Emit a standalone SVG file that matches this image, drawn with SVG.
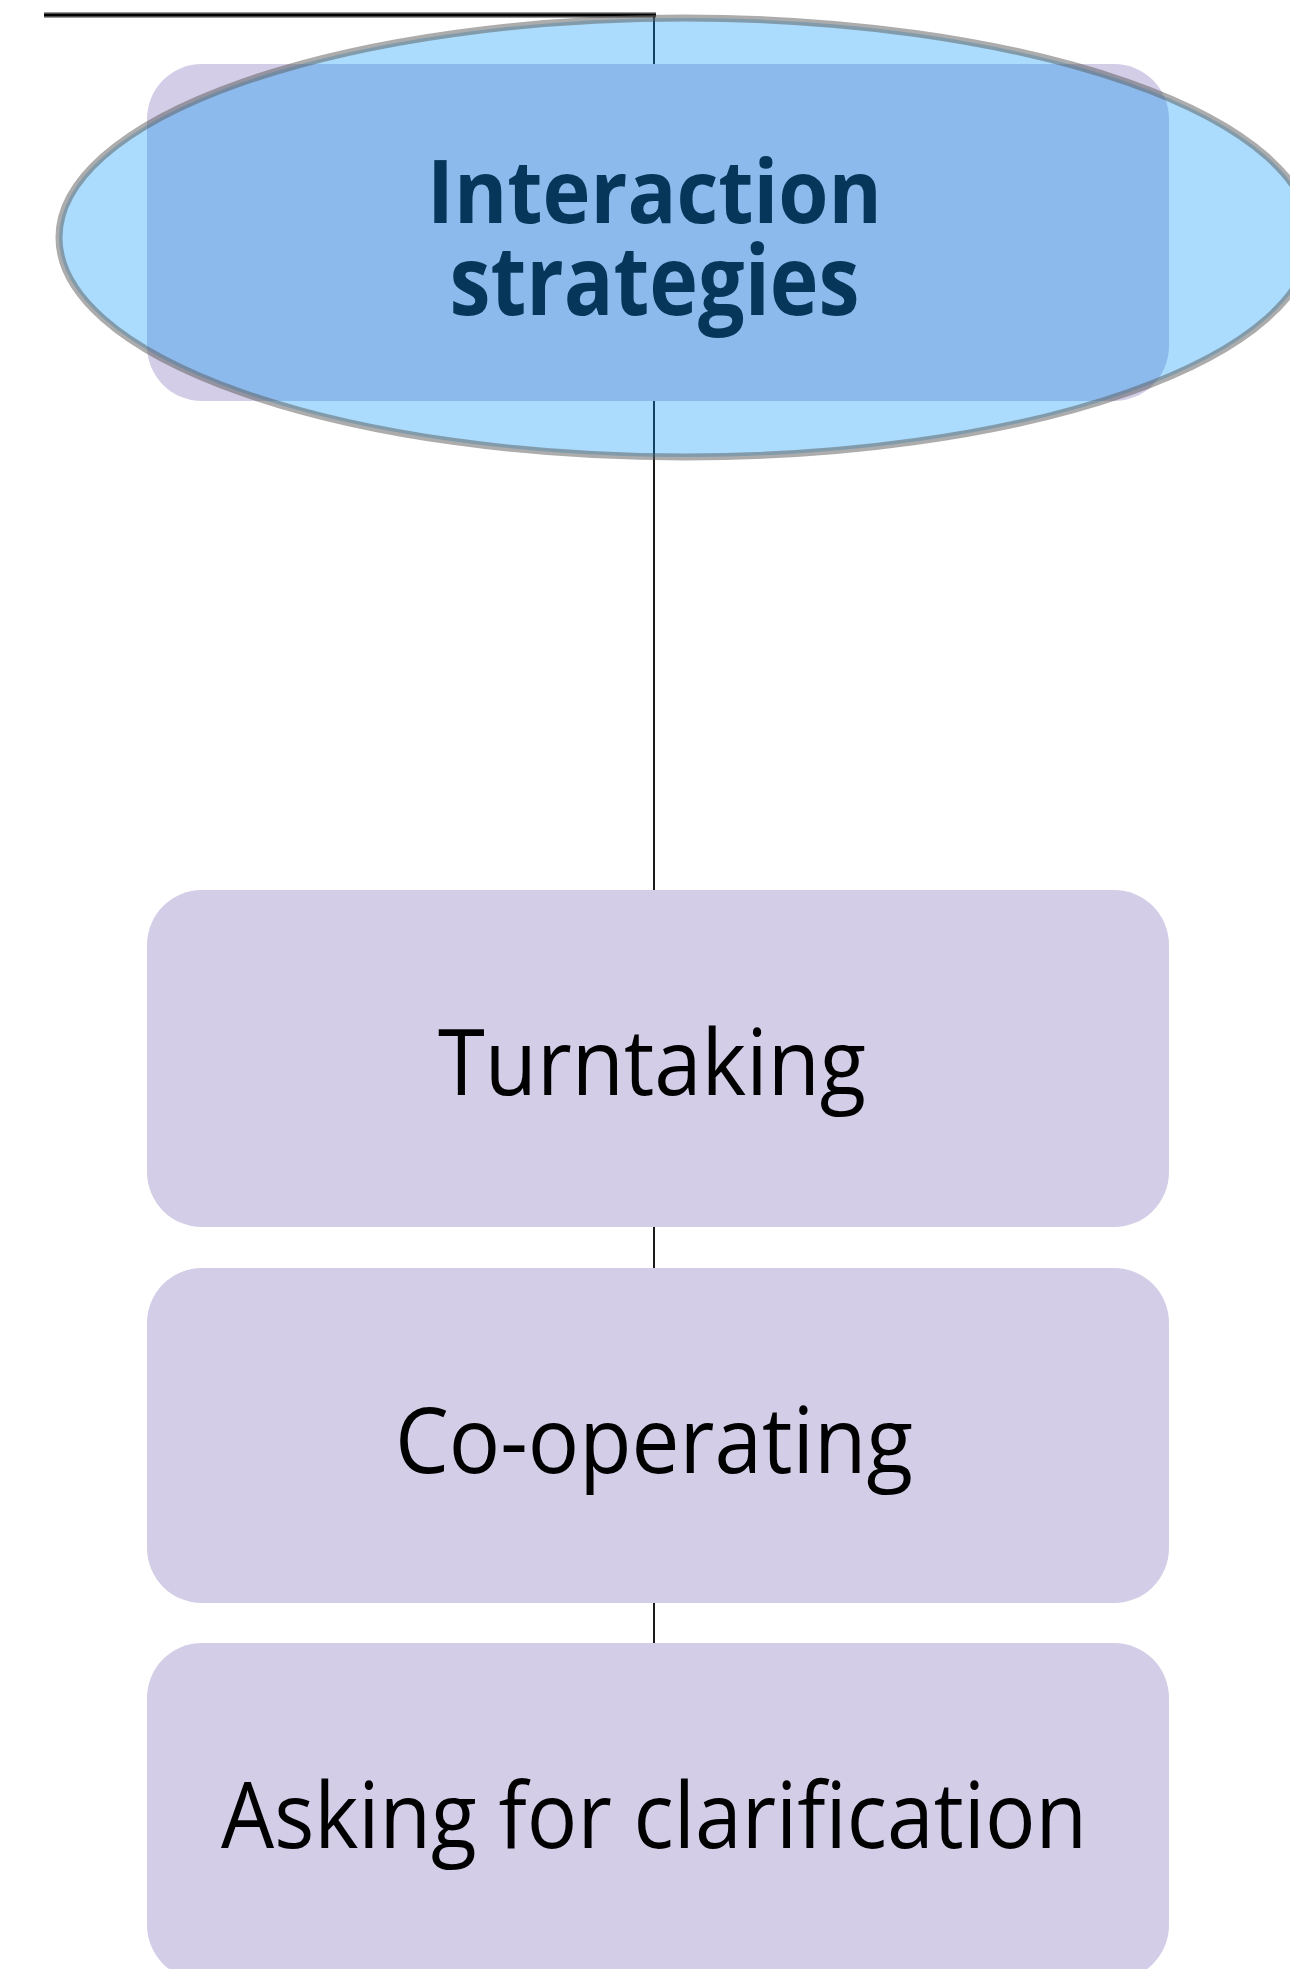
<svg xmlns="http://www.w3.org/2000/svg" width="1290" height="1969" viewBox="0 0 1290 1969">
  <style>
    .box { fill: #d3cde7; }
    .conn { stroke: #1a1a1a; stroke-width: 2; fill: none; }
    .lbl { font-family: "Open Sans", "Noto Sans", "DejaVu Sans", sans-serif; font-size: 91px; fill: #000000; text-anchor: middle; }
    .title { font-family: "Open Sans", "Noto Sans", "DejaVu Sans", sans-serif; font-weight: bold; fill: #06365a; text-anchor: middle; }
  </style>
  <rect width="1290" height="1969" fill="#ffffff"/>
  <g id="connectors">
    <line x1="44" y1="15" x2="656" y2="15" stroke="#9a9a9a" stroke-width="6"/>
    <line x1="44" y1="15" x2="656" y2="15" stroke="#000000" stroke-width="3"/>
    <path class="conn" d="M654 15 V890"/>
    <path class="conn" d="M654 1227 V1268"/>
    <path class="conn" d="M654 1603 V1643"/>
  </g>
  <g id="node-interaction">
    <rect class="box" x="147" y="64" width="1022" height="337" rx="55" ry="55"/>
    <ellipse cx="685" cy="237.5" rx="626" ry="219.5" fill="#0096fa" fill-opacity="0.33" stroke="#5a5a5a" stroke-opacity="0.5" stroke-width="7"/>
    <text class="title"><tspan x="654.5" y="223" font-size="88" textLength="455" lengthAdjust="spacingAndGlyphs">Interaction</tspan><tspan x="654.5" y="315" font-size="96" textLength="410" lengthAdjust="spacingAndGlyphs">strategies</tspan></text>
  </g>
  <g id="node-turntaking">
    <rect class="box" x="147" y="890" width="1022" height="337" rx="55" ry="55"/>
    <text class="lbl" x="652" y="1095" textLength="428" lengthAdjust="spacingAndGlyphs">Turntaking</text>
  </g>
  <g id="node-cooperating">
    <rect class="box" x="147" y="1268" width="1022" height="335" rx="55" ry="55"/>
    <text class="lbl" x="654" y="1473" textLength="518" lengthAdjust="spacingAndGlyphs">Co-operating</text>
  </g>
  <g id="node-clarification">
    <rect class="box" x="147" y="1643" width="1022" height="337" rx="55" ry="55"/>
    <text class="lbl" x="654" y="1848" textLength="866" lengthAdjust="spacingAndGlyphs">Asking for clarification</text>
  </g>
</svg>
